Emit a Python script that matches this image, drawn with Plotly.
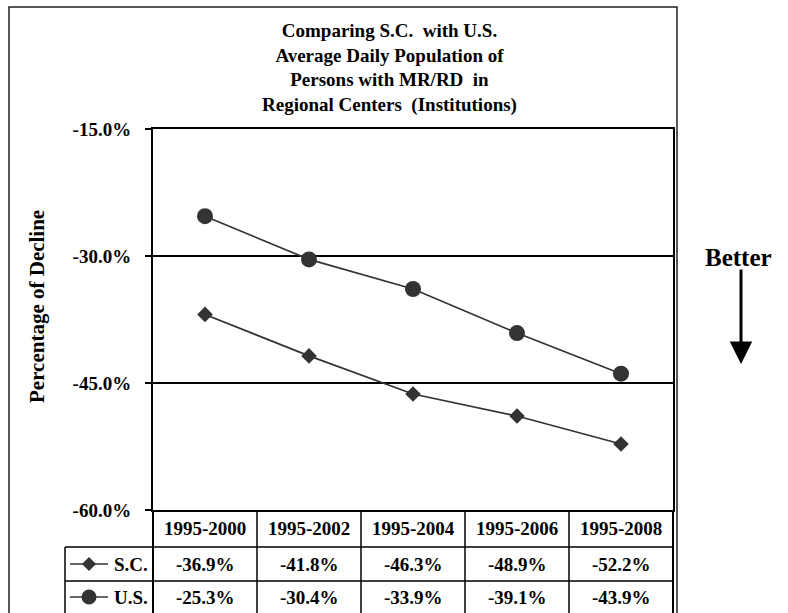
import plotly.graph_objects as go

categories = ["1995-2000", "1995-2002", "1995-2004", "1995-2006", "1995-2008"]
sc_values = [-36.9, -41.8, -46.3, -48.9, -52.2]
us_values = [-25.3, -30.4, -33.9, -39.1, -43.9]
series_names = ["S.C.", "U.S."]
y_tickvals = [-15, -30, -45, -60]
y_ticktext = ["-15.0%", "-30.0%", "-45.0%", "-60.0%"]
title_lines = ["Comparing S.C.  with U.S.", "Average Daily Population of",
               "Persons with MR/RD  in", "Regional Centers  (Institutions)"]

W, H = 788, 613
L, R, T, B = 153, 673, 129, 510  # plot area in pixels

def px(x):
    return (x - L) / (R - L)

def py(y):
    return (B - y) / (B - T)

FONT = "Liberation Serif, Times New Roman, serif"
INK = "#333333"

fig = go.Figure()
fig.add_trace(go.Scatter(
    x=categories, y=sc_values, name=series_names[0], mode="lines+markers",
    line=dict(color=INK, width=1.7),
    marker=dict(symbol="diamond", size=12, color=INK),
))
fig.add_trace(go.Scatter(
    x=categories, y=us_values, name=series_names[1], mode="lines+markers",
    line=dict(color=INK, width=1.7),
    marker=dict(symbol="circle", size=16, color=INK),
))

fig.update_layout(
    width=W, height=H, autosize=False,
    margin=dict(l=L, r=W - R, t=T, b=H - B, pad=0),
    paper_bgcolor="white", plot_bgcolor="white",
    showlegend=False,
    font=dict(family=FONT, size=19, color="black", weight="bold"),
)
fig.update_xaxes(
    type="category", categoryorder="array", categoryarray=categories,
    range=[-0.5, len(categories) - 0.5],
    showticklabels=False, ticks="", showgrid=False,
    showline=True, linecolor="black", linewidth=2, mirror=True,
)
fig.update_yaxes(
    range=[-60, -15], tickvals=y_tickvals, ticktext=y_ticktext,
    ticks="outside", ticklen=6, tickwidth=1.5, tickcolor="black",
    ticklabelstandoff=10,
    tickfont=dict(family=FONT, size=19, color="black", weight="bold"),
    showgrid=True, gridcolor="black", gridwidth=1.6,
    showline=True, linecolor="black", linewidth=2, mirror=True,
    zeroline=False,
)

shapes = []
line_style = dict(color="black", width=1.5)
# outer chart border
shapes.append(dict(type="rect", xref="paper", yref="paper",
                   x0=px(9), x1=px(677), y0=py(620), y1=py(7),
                   line=dict(color="#222222", width=1.5), layer="below"))
# data table grid
for yy in (547, 581):
    shapes.append(dict(type="line", xref="paper", yref="paper",
                       x0=px(65), x1=px(R), y0=py(yy), y1=py(yy), line=line_style))
n = len(categories)
for i in range(n + 1):
    shapes.append(dict(type="line", xref="paper", yref="paper",
                       x0=i / n, x1=i / n, y0=py(B), y1=py(616),
                       line=dict(color="black", width=2 if i in (0, n) else 1.5)))
shapes.append(dict(type="line", xref="paper", yref="paper",
                   x0=px(65), x1=px(65), y0=py(547), y1=py(616), line=line_style))
# legend keys in the table
row_centers = [564, 597]
for yc in row_centers:
    shapes.append(dict(type="line", xref="paper", yref="paper",
                       x0=px(70), x1=px(108), y0=py(yc), y1=py(yc),
                       line=dict(color=INK, width=1.7)))
shapes.append(dict(type="path", xref="paper", yref="paper",
                   xsizemode="pixel", ysizemode="pixel",
                   xanchor=px(89), yanchor=py(row_centers[0]),
                   path="M -7 0 L 0 7 L 7 0 L 0 -7 Z",
                   fillcolor=INK, line=dict(color=INK, width=0)))
shapes.append(dict(type="circle", xref="paper", yref="paper",
                   xsizemode="pixel", ysizemode="pixel",
                   xanchor=px(89), yanchor=py(row_centers[1]),
                   x0=-7.5, x1=7.5, y0=-7.5, y1=7.5,
                   fillcolor=INK, line=dict(color=INK, width=0)))
fig.update_layout(shapes=shapes)

ann = []
tfont = dict(family=FONT, size=19, color="black", weight="bold")
# title
ann.append(dict(text="<br>".join(title_lines), xref="paper", yref="paper",
                x=px(389), y=py(68), xanchor="center", yanchor="middle",
                showarrow=False, font=tfont, align="center"))
# y axis title
ann.append(dict(text="Percentage of Decline", xref="paper", yref="paper",
                x=px(37), y=py(307), xanchor="center", yanchor="middle",
                textangle=-90, showarrow=False,
                font=dict(family=FONT, size=21, color="black", weight="bold")))
# table header and values
for i, c in enumerate(categories):
    ann.append(dict(text=c, xref="x", yref="paper", x=c, y=py(528),
                    xanchor="center", yanchor="middle", showarrow=False, font=tfont))
    for vals, yc in ((sc_values, row_centers[0]), (us_values, row_centers[1])):
        ann.append(dict(text=f"{vals[i]:.1f}%", xref="x", yref="paper", x=c, y=py(yc),
                        xanchor="center", yanchor="middle", showarrow=False,
                        font=tfont, borderpad=0))
for name, yc in zip(series_names, row_centers):
    ann.append(dict(text=name, xref="paper", yref="paper", x=px(149), y=py(yc),
                    xanchor="right", yanchor="middle", showarrow=False,
                    font=tfont, borderpad=0))
# Better arrow
ann.append(dict(text="Better", xref="paper", yref="paper", x=px(738), y=py(257),
                xanchor="center", yanchor="middle", showarrow=False,
                font=dict(family=FONT, size=25, color="black", weight="bold")))
ann.append(dict(text="", xref="paper", yref="paper", x=px(741), y=py(364),
                ax=0, ay=-96, showarrow=True, arrowhead=2, arrowsize=1.5,
                arrowwidth=3, arrowcolor="black", standoff=0))
fig.update_layout(annotations=ann)

fig.write_html("out.html",
               config={"displayModeBar": False},
               post_script="document.body.style.margin='0';document.body.style.overflow='hidden';")
